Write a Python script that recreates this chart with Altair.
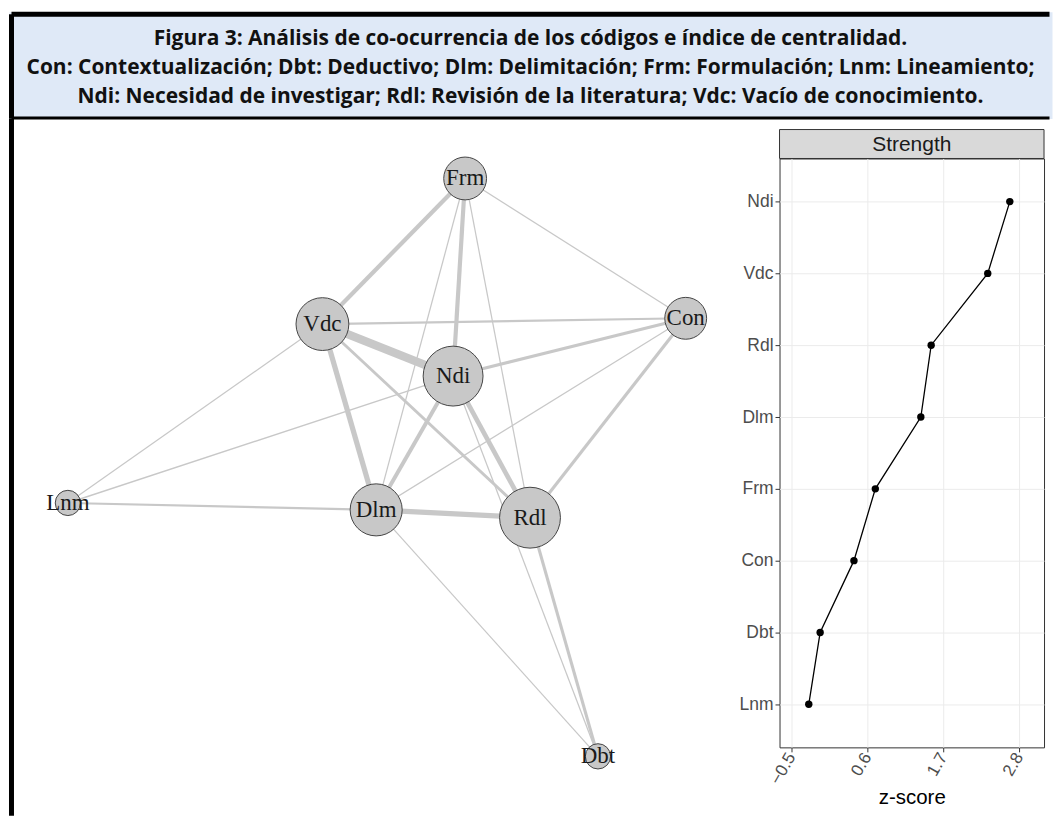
import altair as alt
import pandas as pd

# ---------------- data ----------------
titulo = [
    "Figura 3: Análisis de co-ocurrencia de los códigos e índice de centralidad.",
    "Con: Contextualización; Dbt: Deductivo; Dlm: Delimitación; Frm: Formulación; Lnm: Lineamiento;",
    "Ndi: Necesidad de investigar; Rdl: Revisión de la literatura; Vdc: Vacío de conocimiento.",
]

nodos = ["Frm", "Vdc", "Con", "Ndi", "Lnm", "Dlm", "Rdl", "Dbt"]
layout_x = [0.286, -0.176, 1.0, 0.247, -1.0, -0.002, 0.496, 0.716]
layout_y = [1.0, 0.496, 0.516, 0.316, -0.123, -0.147, -0.174, -1.0]
frecuencia = [46, 70, 44, 90, 16, 68, 93, 16]

aristas_desde = ["Vdc", "Vdc", "Dlm", "Ndi", "Frm", "Frm", "Ndi", "Ndi", "Con", "Rdl",
                 "Vdc", "Vdc", "Lnm", "Ndi", "Frm", "Frm", "Frm", "Vdc", "Con", "Dlm", "Ndi"]
aristas_hasta = ["Ndi", "Dlm", "Rdl", "Rdl", "Vdc", "Ndi", "Dlm", "Con", "Rdl", "Dbt",
                 "Rdl", "Con", "Dlm", "Lnm", "Con", "Dlm", "Rdl", "Lnm", "Dlm", "Dbt", "Dbt"]
aristas_peso = [0.80, 0.50, 0.50, 0.45, 0.40, 0.40, 0.38, 0.30, 0.30, 0.30,
                0.27, 0.20, 0.20, 0.14, 0.12, 0.12, 0.12, 0.12, 0.12, 0.12, 0.12]

codigos_strength = ["Ndi", "Vdc", "Rdl", "Dlm", "Frm", "Con", "Dbt", "Lnm"]
strength_z = [2.67, 2.35, 1.53, 1.38, 0.72, 0.41, -0.08, -0.245]
ticks_x = [-0.5, 0.6, 1.7, 2.8]
panel_titulo = ["Strength"]

# ---------------- sizes ----------------
HW, HH = 1045, 107      # header
NW, NH = 720, 701       # network
SW, SH = 265, 590       # strength panel
GAP = 52                # network -> strength panel

deco = pd.DataFrame({"k": [0]})

# ---------------- header ----------------
hdf = pd.DataFrame({"linea": [0, 1, 2], "texto": titulo})
header_text = alt.Chart(hdf).mark_text(
    font="Open Sans", fontWeight="bold", fontSize=21, color="#111111",
    baseline="alphabetic", align="center"
).encode(
    x=alt.value(HW / 2),
    y=alt.Y("linea:O", scale=alt.Scale(type="point", range=[33, 91], padding=0), axis=None),
    text="texto:N",
)
h_top = alt.Chart(deco).mark_rule(color="black", strokeWidth=5).encode(
    x=alt.value(2.5), x2=alt.value(HW - 2.5), y=alt.value(2.5))
h_left = alt.Chart(deco).mark_rule(color="black", strokeWidth=5).encode(
    x=alt.value(2.5), y=alt.value(2.5), y2=alt.value(HH))
h_bottom = alt.Chart(deco).mark_rule(color="black", strokeWidth=3).encode(
    x=alt.value(2.5), x2=alt.value(HW - 2.5), y=alt.value(HH - 0.5))
header = alt.layer(header_text, h_top, h_left, h_bottom).properties(
    width=HW, height=HH,
    view=alt.ViewBackground(fill="#dfe9f7", stroke="transparent"))

# ---------------- network ----------------
pos = dict(zip(nodos, zip(layout_x, layout_y)))
ndf = pd.DataFrame({"nodo": nodos, "lx": layout_x, "ly": layout_y, "frecuencia": frecuencia})
edf = pd.DataFrame({"desde": aristas_desde, "hasta": aristas_hasta, "peso": aristas_peso})
edf["x1"] = [pos[n][0] for n in edf["desde"]]
edf["y1"] = [pos[n][1] for n in edf["desde"]]
edf["x2"] = [pos[n][0] for n in edf["hasta"]]
edf["y2"] = [pos[n][1] for n in edf["hasta"]]
edf = edf.sort_values("peso")

xs = alt.Scale(domain=[-1.1906, 1.1357], nice=False, zero=False)
ys = alt.Scale(domain=[-1.2142, 1.2073], nice=False, zero=False)

edges = alt.Chart(edf).mark_rule(color="#c8c8c8", strokeCap="butt").encode(
    x=alt.X("x1:Q", scale=xs, axis=None),
    y=alt.Y("y1:Q", scale=ys, axis=None),
    x2="x2:Q", y2="y2:Q",
    strokeWidth=alt.StrokeWidth("peso:Q", scale=alt.Scale(domain=[0, 1], range=[0, 10.5]), legend=None),
)
node_c = alt.Chart(ndf).mark_circle(
    fill="#c8c8c8", stroke="#444444", strokeWidth=1, opacity=1, fillOpacity=1
).encode(
    x=alt.X("lx:Q", scale=xs, axis=None),
    y=alt.Y("ly:Q", scale=ys, axis=None),
    size=alt.Size("frecuencia:Q", scale=alt.Scale(domain=[0, 100], range=[0, 4000]), legend=None),
)
node_t = alt.Chart(ndf).mark_text(
    font="Liberation Serif", fontSize=23, color="#1a1a1a", baseline="middle", align="center"
).encode(
    x=alt.X("lx:Q", scale=xs, axis=None),
    y=alt.Y("ly:Q", scale=ys, axis=None),
    text="nodo:N",
)
n_left = alt.Chart(deco).mark_rule(color="black", strokeWidth=5).encode(
    x=alt.value(2.5), y=alt.value(0), y2=alt.value(NH - 2.5))
network = alt.layer(edges, node_c, node_t, n_left).properties(
    width=NW, height=NH, view=alt.ViewBackground(stroke="transparent"))

# ---------------- strength ----------------
sdf = pd.DataFrame({"codigo": codigos_strength, "z": strength_z})
ybase = alt.Y(
    "codigo:N", sort=codigos_strength,
    scale=alt.Scale(type="point", padding=0.6),
    axis=alt.Axis(title=None, labelFontSize=17.5, labelColor="#4d4d4d", tickColor="#333333",
                  tickSize=4.5, tickWidth=1, labelPadding=2, domain=False,
                  grid=True, gridColor="#ebebeb", gridWidth=1),
)
xbase = alt.X(
    "z:Q",
    scale=alt.Scale(domain=[-0.669, 3.166], nice=False, zero=False),
    axis=alt.Axis(values=ticks_x, format=".1f", labelAngle=300, labelAlign="right",
                  labelBaseline="middle", labelFontSize=17, labelColor="#4d4d4d",
                  tickColor="#333333", tickSize=4.5, tickWidth=1, domain=False,
                  grid=True, gridColor="#ebebeb", gridWidth=1,
                  title="z-score", titleFontSize=20.5, titleFontWeight="normal",
                  titleColor="#000000", titlePadding=1),
)
s_line = alt.Chart(sdf).mark_line(color="black", strokeWidth=1.3).encode(x=xbase, y=ybase)
s_pts = alt.Chart(sdf).mark_circle(color="black", size=55, opacity=1).encode(x=xbase, y=ybase)
strength = alt.layer(s_line, s_pts).properties(
    width=SW, height=SH,
    view=alt.ViewBackground(stroke="#333333", strokeWidth=1, fill="white"))

sdf_strip = pd.DataFrame({"panel": panel_titulo})
strip_rect = alt.Chart(sdf_strip).mark_rect(fill="#d9d9d9", stroke="#333333", strokeWidth=1).encode(
    x=alt.value(0), x2=alt.value(SW), y=alt.value(11), y2=alt.value(40))
strip_text = alt.Chart(sdf_strip).mark_text(
    font="Liberation Sans", fontSize=21, color="#1a1a1a", baseline="middle", align="center"
).encode(x=alt.value(SW / 2), y=alt.value(26), text="panel:N")
strip = alt.layer(strip_rect, strip_text).properties(
    width=SW, height=40, view=alt.ViewBackground(stroke="transparent"))

right = alt.vconcat(strip, strength, spacing=0, bounds="flush")
body = alt.hconcat(network, right, spacing=GAP, bounds="flush")

chart = alt.vconcat(header, body, spacing=0, bounds="flush").properties(
    padding={"left": 0, "top": 2, "right": 0, "bottom": 0},
    background="white",
).configure_axis(
    labelFont="Liberation Sans", titleFont="Liberation Sans"
)

chart.save("out.html", embed_options={"renderer": "svg", "actions": False})
